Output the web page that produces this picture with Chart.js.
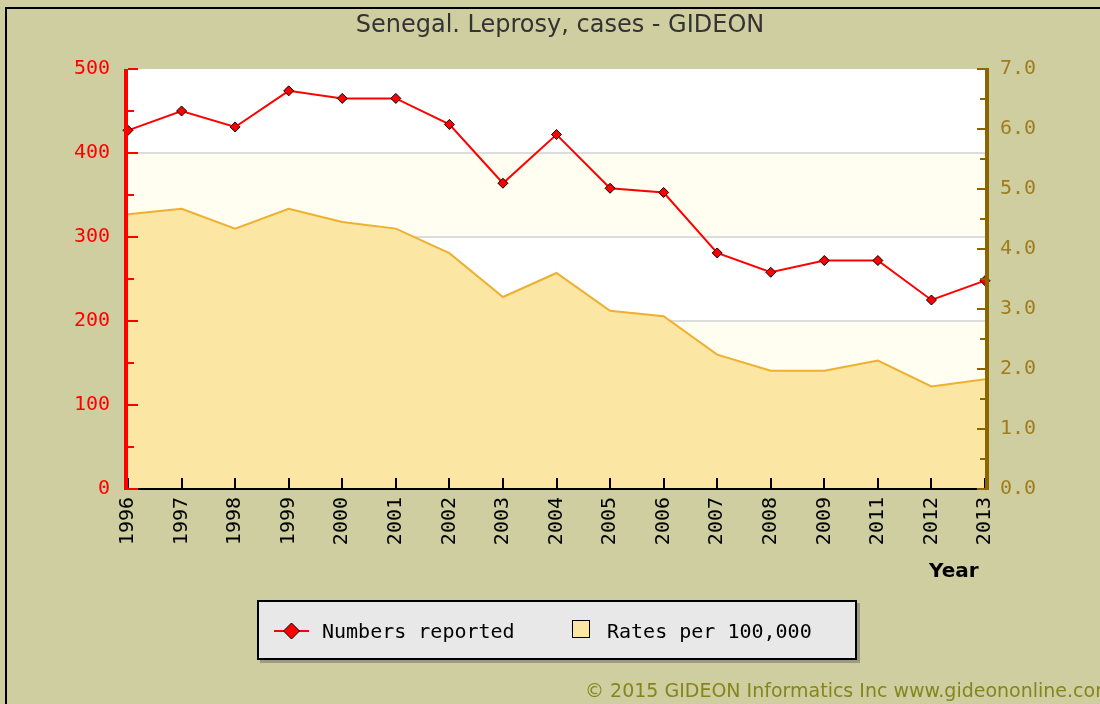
<!DOCTYPE html>
<html>
<head>
<meta charset="utf-8">
<script src="https://cdn.jsdelivr.net/npm/chart.js@4"></script>
<style>
  html, body { margin: 0; padding: 0; }
  body { width: 1100px; height: 704px; overflow: hidden; background: #cfcea0; position: relative; }
  #edgeTop { position: absolute; left: 5px; top: 7px; width: 1095px; height: 2px; background: #000; }
  #edgeLeft { position: absolute; left: 5px; top: 7px; width: 2px; height: 697px; background: #000; }
  #chart { position: absolute; left: 0; top: 0; }
  .txt { position: absolute; white-space: nowrap; }
  #title { left: 0; width: 1120px; top: 10px; text-align: center; font: 24px "DejaVu Sans", sans-serif; color: #333; }
  #year { left: 929px; top: 558px; font: bold 20px "DejaVu Sans", sans-serif; color: #000; }
  #legend { position: absolute; left: 257px; top: 600px; width: 600px; height: 60px; box-sizing: border-box;
            background: #e8e8e8; border: 2px solid #000; box-shadow: 3px 3px 0 #9a9a80; }
  .lg { position: absolute; top: 17px; font: 20px "DejaVu Sans Mono", monospace; color: #000; }
  #foot { left: 585px; top: 679px; font: 19px "DejaVu Sans", sans-serif; color: #85851c; }
</style>
</head>
<body>
<div id="edgeTop"></div>
<div id="edgeLeft"></div>
<canvas id="chart" width="1100" height="704"></canvas>
<div class="txt" id="title">Senegal. Leprosy, cases - GIDEON</div>
<div class="txt" id="year">Year</div>
<div id="legend">
  <svg style="position:absolute;left:14px;top:17px" width="40" height="24">
    <line x1="1" y1="12" x2="36" y2="12" stroke="#ff0000" stroke-width="2"/>
    <polygon points="18.5,4 26.5,12 18.5,20 10.5,12" fill="#ff0000" stroke="#000" stroke-width="1"/>
  </svg>
  <div class="lg" style="left:63px">Numbers reported</div>
  <div style="position:absolute;left:313px;top:18px;width:16px;height:16px;background:#fbe6a4;border:1px solid #000"></div>
  <div class="lg" style="left:348px">Rates per 100,000</div>
</div>
<div class="txt" id="foot">© 2015 GIDEON Informatics Inc www.gideononline.com</div>

<script>
// categories (note: no 2010 in the source)
var years = ['1996','1997','1998','1999','2000','2001','2002','2003','2004',
             '2005','2006','2007','2008','2009','2011','2012','2013'];

// numbers reported (left axis)
var numbers = [427, 450, 431, 474, 465, 465, 434, 364, 422, 358, 353, 281, 258, 272, 272, 225, 248];

// rates per 100,000 (right axis)
var rates = [4.58, 4.67, 4.34, 4.67, 4.45, 4.34, 3.93, 3.20, 3.60, 2.97, 2.88, 2.24, 1.97, 1.97, 2.14, 1.71, 1.83];

var casesTicks = [0, 100, 200, 300, 400, 500];
var rateTicks = [0, 1, 2, 3, 4, 5, 6, 7];

var tickFont = { family: 'DejaVu Sans Mono', size: 20 };

// alternating bands + light grid behind the data
var bands = {
  id: 'bands',
  beforeDatasetsDraw: function (chart) {
    var ctx = chart.ctx, a = chart.chartArea, y = chart.scales.y;
    ctx.save();
    for (var i = 0; i < casesTicks.length - 1; i++) {
      var top = y.getPixelForValue(casesTicks[i + 1]);
      var bot = y.getPixelForValue(casesTicks[i]);
      ctx.fillStyle = (i % 2 === 0) ? '#ffffff' : '#fffef0';
      ctx.fillRect(a.left, top, a.right - a.left, bot - top);
    }
    ctx.strokeStyle = '#dcdcdc';
    ctx.lineWidth = 2;
    for (var j = 1; j < casesTicks.length - 1; j++) {
      var py = Math.round(y.getPixelForValue(casesTicks[j]));
      ctx.beginPath();
      ctx.moveTo(a.left, py);
      ctx.lineTo(a.right, py);
      ctx.stroke();
    }
    ctx.restore();
  }
};

// axis lines with inward ticks
var axes = {
  id: 'axes',
  afterDatasetsDraw: function (chart) {
    var ctx = chart.ctx, a = chart.chartArea;
    var y = chart.scales.y, y2 = chart.scales.y2, x = chart.scales.x;
    ctx.save();
    // x axis
    ctx.fillStyle = '#000';
    ctx.fillRect(a.left, a.bottom - 1, a.right - a.left, 2);
    for (var i = 0; i < years.length; i++) {
      var px = Math.round(x.getPixelForValue(i));
      ctx.fillRect(px - 1, a.bottom - 11, 2, 11);
    }
    // left axis
    ctx.fillStyle = '#ff0000';
    ctx.fillRect(a.left - 4, a.top, 4, a.bottom - a.top + 1);
    for (var v = 0; v <= 500; v += 50) {
      var py = Math.round(y.getPixelForValue(v));
      var len = (v % 100 === 0) ? 10 : 6;
      ctx.fillRect(a.left, py - 1, len, 2);
    }
    // right axis
    ctx.fillStyle = '#8c6400';
    ctx.fillRect(a.right, a.top - 1, 4, a.bottom - a.top + 2);
    for (var r = 0; r <= 7; r += 0.5) {
      var ry = Math.round(y2.getPixelForValue(r));
      var rl = (r % 1 === 0) ? 8 : 5;
      ctx.fillRect(a.right - rl, ry - 1, rl, 2);
    }
    ctx.restore();
  }
};

var config = {
  type: 'line',
  data: {
    labels: years,
    datasets: [
      {
        label: 'Numbers reported',
        data: numbers,
        yAxisID: 'y',
        order: 0,
        borderColor: '#ff0000',
        borderWidth: 2,
        pointStyle: 'rectRot',
        pointRadius: 5,
        pointBackgroundColor: '#ff0000',
        pointBorderColor: '#000',
        pointBorderWidth: 1,
        tension: 0,
        fill: false,
        clip: false
      },
      {
        label: 'Rates per 100,000',
        data: rates,
        yAxisID: 'y2',
        order: 1,
        borderColor: '#eeb030',
        borderWidth: 2,
        backgroundColor: '#fbe6a4',
        pointRadius: 0,
        tension: 0,
        fill: 'origin'
      }
    ]
  },
  options: {
    responsive: false,
    animation: false,
    layout: { padding: { top: 69, left: 0, right: 0, bottom: 0 } },
    plugins: { legend: { display: false }, title: { display: false }, tooltip: { enabled: false } },
    scales: {
      x: {
        offset: false,
        grid: { display: false, drawTicks: false },
        border: { display: false },
        ticks: { color: '#000', font: tickFont, minRotation: 90, maxRotation: 90, padding: 8, autoSkip: false },
        afterFit: function (s) { s.height = 215; }
      },
      y: {
        position: 'left',
        min: 0, max: 500,
        grid: { display: false, drawTicks: false },
        border: { display: false },
        ticks: { stepSize: 100, color: '#ff0000', font: tickFont, padding: 18 },
        afterFit: function (s) { s.width = 128; }
      },
      y2: {
        position: 'right',
        min: 0, max: 7,
        grid: { display: false, drawTicks: false },
        border: { display: false },
        ticks: {
          stepSize: 1, color: '#a07c1c', font: tickFont, padding: 15,
          callback: function (v) { return v.toFixed(1); }
        },
        afterFit: function (s) { s.width = 115; }
      }
    }
  },
  plugins: [bands, axes]
};

window.myLine = new Chart(document.getElementById('chart'), config);
</script>
</body>
</html>
